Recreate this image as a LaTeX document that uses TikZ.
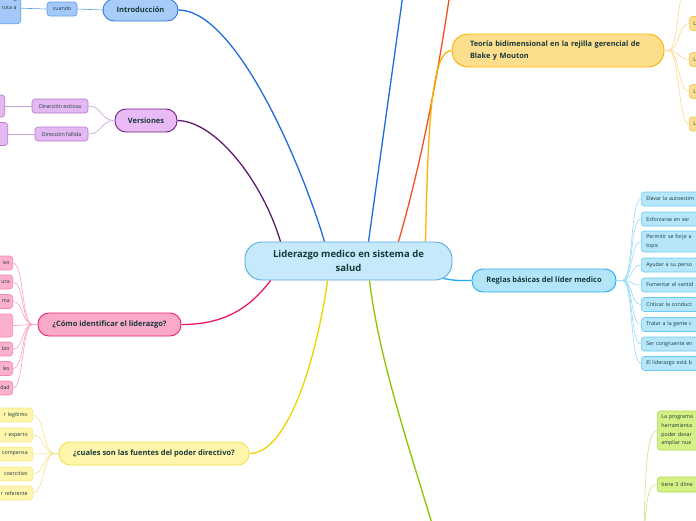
\documentclass[tikz,border=0pt]{standalone}
\usepackage{fontspec}
\setmainfont{Open Sans}
\usetikzlibrary{calc}
\definecolor{ink}{HTML}{183A3A}
\definecolor{cfill}{HTML}{C6E9FB}
\definecolor{cdraw}{HTML}{5AAAE0}
\definecolor{ifill}{HTML}{A8CCF8}
\definecolor{idraw}{HTML}{2F7BE0}
\definecolor{iedge}{HTML}{1E6CDC}
\definecolor{ilfill}{HTML}{A4C9F8}
\definecolor{ildraw}{HTML}{5B9BE6}
\definecolor{vfill}{HTML}{EABAF6}
\definecolor{vdraw}{HTML}{6E1F80}
\definecolor{vedge}{HTML}{5E1A70}
\definecolor{vlfill}{HTML}{E4B8F2}
\definecolor{vldraw}{HTML}{B27AC8}
\definecolor{vline}{HTML}{C8A0D8}
\definecolor{pfill}{HTML}{FBA9C9}
\definecolor{pdraw}{HTML}{EA1E6E}
\definecolor{pedge}{HTML}{E8176B}
\definecolor{plfill}{HTML}{FBB0CE}
\definecolor{pldraw}{HTML}{F28AB6}
\definecolor{pline}{HTML}{F9A0C6}
\definecolor{yfill}{HTML}{FFF6AC}
\definecolor{ydraw}{HTML}{F2E04C}
\definecolor{yedge}{HTML}{EED300}
\definecolor{yldraw}{HTML}{F3E68C}
\definecolor{yline}{HTML}{F3E08C}
\definecolor{tfill}{HTML}{FDDE8D}
\definecolor{tdraw}{HTML}{F6B400}
\definecolor{tedge}{HTML}{F8B500}
\definecolor{tldraw}{HTML}{F6C458}
\definecolor{tline}{HTML}{FBD88A}
\definecolor{rfill}{HTML}{B2E4FA}
\definecolor{rdraw}{HTML}{22AEEE}
\definecolor{redge}{HTML}{1DAAF0}
\definecolor{rlfill}{HTML}{B6E6FA}
\definecolor{rldraw}{HTML}{6CCBF2}
\definecolor{rline}{HTML}{9ADAF6}
\definecolor{oedge}{HTML}{F2501E}
\definecolor{gedge}{HTML}{8CC300}
\definecolor{glfill}{HTML}{D3F184}
\definecolor{gldraw}{HTML}{ACDA4E}
\definecolor{gline}{HTML}{C4E48A}

\begin{document}
\begin{tikzpicture}[x=1pt,y=-1pt,
  topic/.style={rounded corners=11pt,draw,line width=0.9pt,text=ink,
    font=\fontsize{7.5}{9}\selectfont\bfseries,minimum height=23pt,inner sep=0pt},
  leaf/.style={rounded corners=3pt,draw,line width=0.6pt,text=ink,
    font=\fontsize{5.3}{8.6}\selectfont,minimum height=14pt,inner sep=0pt},
  trunk/.style={line width=1.3pt},
  twig/.style={line width=0.6pt},
  fanr/.style={out=0,in=180,distance=11pt},
  fanl/.style={out=180,in=0,distance=11pt}]
  \useasboundingbox (0,0) rectangle (696,520);
  % centre
  \node[topic,fill=cfill,draw=cdraw,minimum width=207pt,minimum height=38pt,
    rounded corners=17pt,align=center,font=\fontsize{9.5}{14}\selectfont\bfseries]
    (lid) at (348.5,261) {Liderazgo medico en sistema de\\salud};
  % left: introduccion and versiones
  \node[topic,fill=ifill,draw=idraw,minimum width=75pt,minimum height=22pt] (intro) at (140.5,10) {Introducción};
  \node[leaf,fill=ilfill,draw=ildraw,minimum width=30pt] (cuando) at (62,9) {cuando};
  \node[leaf,fill=ilfill,draw=ildraw,anchor=south east,minimum height=31pt,text width=50pt,
    align=right,inner xsep=4pt] (ruta) at (21,24) {a\\ruta a\\\mbox{}};
  \draw[twig,ildraw] (intro.west) -- (cuando.east);
  \draw[twig,ildraw] (cuando.west) -- (ruta.east);
  \node[topic,fill=vfill,draw=vdraw,minimum width=62pt] (vers) at (146,120.5) {Versiones};
  \node[leaf,fill=vlfill,draw=vldraw,minimum width=56pt] (exit) at (60,106) {Dirección exitosa};
  \node[leaf,fill=vlfill,draw=vldraw,minimum width=53pt] (fall) at (61.5,134) {Dirección fallida};
  \node[leaf,fill=vlfill,draw=vldraw,anchor=east,minimum width=40pt,minimum height=22pt] (v1) at (5,106) {};
  \node[leaf,fill=vlfill,draw=vldraw,anchor=east,minimum width=40pt,minimum height=23pt] (v2) at (8,134) {};
  \draw[twig,vline] (vers.west) to[fanl,distance=14pt] (exit.east);
  \draw[twig,vline] (vers.west) to[fanl,distance=14pt] (fall.east);
  \draw[twig,vline] (exit.west) -- (v1.east);
  \draw[twig,vline] (fall.west) -- (v2.east);
  % left: como identificar
  \node[topic,fill=pfill,draw=pdraw,minimum width=143pt] (cmo) at (109.5,324.5) {¿Cómo identificar el liderazgo?};
  \node[leaf,fill=plfill,draw=pldraw,anchor=east,text width=40pt,align=right,inner xsep=3pt] (p1) at (13,263) {ivo};
  \node[leaf,fill=plfill,draw=pldraw,anchor=east,text width=40pt,align=right,inner xsep=3pt] (p2) at (13,282) {ura};
  \node[leaf,fill=plfill,draw=pldraw,anchor=east,text width=40pt,align=right,inner xsep=3pt] (p3) at (13,301.5) {ma};
  \node[leaf,fill=plfill,draw=pldraw,anchor=east,text width=40pt,minimum height=23pt,inner xsep=3pt] (p4) at (13,325.5) {};
  \node[leaf,fill=plfill,draw=pldraw,anchor=east,text width=40pt,align=right,inner xsep=3pt] (p5) at (13,349) {bio};
  \node[leaf,fill=plfill,draw=pldraw,anchor=east,text width=40pt,align=right,inner xsep=3pt] (p6) at (13,368.5) {les};
  \node[leaf,fill=plfill,draw=pldraw,anchor=east,text width=40pt,align=right,inner xsep=3pt] (p7) at (13,388) {dad};
  \draw[twig,pline] (cmo.west) -- ++(-5,0) to[fanl] (p1.east);
  \draw[twig,pline] (cmo.west) -- ++(-5,0) to[fanl] (p2.east);
  \draw[twig,pline] (cmo.west) -- ++(-5,0) to[fanl] (p3.east);
  \draw[twig,pline] (cmo.west) -- ++(-5,0) to[fanl] (p4.east);
  \draw[twig,pline] (cmo.west) -- ++(-5,0) to[fanl] (p5.east);
  \draw[twig,pline] (cmo.west) -- ++(-5,0) to[fanl] (p6.east);
  \draw[twig,pline] (cmo.west) -- ++(-5,0) to[fanl] (p7.east);
  % left: fuentes del poder
  \node[topic,fill=yfill,draw=ydraw,minimum width=190pt] (cual) at (154,453.5) {¿cuales son las fuentes del poder directivo?};
  \node[leaf,fill=yfill,draw=yldraw,anchor=east,text width=40pt,align=right,inner xsep=5pt] (y1) at (33,415) {r legítimo};
  \node[leaf,fill=yfill,draw=yldraw,anchor=east,text width=40pt,align=right,inner xsep=5pt] (y2) at (33,435) {r experto};
  \node[leaf,fill=yfill,draw=yldraw,anchor=east,text width=40pt,align=right,inner xsep=5pt] (y3) at (33,454) {compensa};
  \node[leaf,fill=yfill,draw=yldraw,anchor=east,text width=40pt,align=right,inner xsep=5pt] (y4) at (33,474) {coercitivo};
  \node[leaf,fill=yfill,draw=yldraw,anchor=east,text width=40pt,align=right,inner xsep=5pt] (y5) at (33,493) {r referente};
  \draw[twig,yline] (cual.west) -- ++(-4,0) to[fanl] (y1.east);
  \draw[twig,yline] (cual.west) -- ++(-4,0) to[fanl] (y2.east);
  \draw[twig,yline] (cual.west) -- ++(-4,0) to[fanl] (y3.east);
  \draw[twig,yline] (cual.west) -- ++(-4,0) to[fanl] (y4.east);
  \draw[twig,yline] (cual.west) -- ++(-4,0) to[fanl] (y5.east);
  % right: teoria bidimensional
  \node[topic,fill=tfill,draw=tdraw,minimum height=33pt,rounded corners=16pt,text width=176pt,
    align=left,inner xsep=18pt,font=\fontsize{7.4}{11.5}\selectfont\bfseries]
    (teo) at (558,50.5) {Teoría bidimensional en la rejilla gerencial de\\Blake y Mouton};
  \node[leaf,fill=tfill,draw=tldraw,anchor=west,text width=30pt,align=left,inner xsep=4pt] (t0) at (689,-26) {};
  \node[leaf,fill=tfill,draw=tldraw,anchor=west,text width=30pt,align=left,inner xsep=4pt] (t1) at (689,23.5) {L};
  \node[leaf,fill=tfill,draw=tldraw,anchor=west,text width=30pt,align=left,inner xsep=4pt] (t2) at (689,59.5) {L};
  \node[leaf,fill=tfill,draw=tldraw,anchor=west,text width=30pt,align=left,inner xsep=4pt] (t3) at (689,91.5) {L};
  \node[leaf,fill=tfill,draw=tldraw,anchor=west,text width=30pt,align=left,inner xsep=4pt] (t4) at (689,124) {L};
  \draw[twig,tline] (teo.east) -- ++(4,0) to[fanr] (t0.west);
  \draw[twig,tline] (teo.east) -- ++(4,0) to[fanr] (t1.west);
  \draw[twig,tline] (teo.east) -- ++(4,0) to[fanr] (t2.west);
  \draw[twig,tline] (teo.east) -- ++(4,0) to[fanr] (t3.west);
  \draw[twig,tline] (teo.east) -- ++(4,0) to[fanr] (t4.west);
  % right: reglas basicas
  \node[topic,fill=rfill,draw=rdraw,minimum width=144pt] (reg) at (544,280.5) {Reglas básicas del líder medico};
  \node[leaf,fill=rlfill,draw=rldraw,anchor=west,text width=70pt,align=left,inner xsep=5pt] (r1) at (641,199) {Elevar la autoestim};
  \node[leaf,fill=rlfill,draw=rldraw,anchor=west,text width=70pt,align=left,inner xsep=5pt] (r2) at (641,219) {Esforzarse en ser};
  \node[leaf,fill=rlfill,draw=rldraw,anchor=west,text width=70pt,align=left,inner xsep=5pt,minimum height=21pt] (r3) at (641,241.5) {Permitir se forje a\\topic};
  \node[leaf,fill=rlfill,draw=rldraw,anchor=west,text width=70pt,align=left,inner xsep=5pt] (r4) at (641,265) {Ayudar a su perso};
  \node[leaf,fill=rlfill,draw=rldraw,anchor=west,text width=70pt,align=left,inner xsep=5pt] (r5) at (641,285) {Fomentar el sentid};
  \node[leaf,fill=rlfill,draw=rldraw,anchor=west,text width=70pt,align=left,inner xsep=5pt] (r6) at (641,304.5) {Criticar la conduct};
  \node[leaf,fill=rlfill,draw=rldraw,anchor=west,text width=70pt,align=left,inner xsep=5pt] (r7) at (641,324.5) {Tratar a la gente c};
  \node[leaf,fill=rlfill,draw=rldraw,anchor=west,text width=70pt,align=left,inner xsep=5pt] (r8) at (641,344) {Ser congruente en};
  \node[leaf,fill=rlfill,draw=rldraw,anchor=west,text width=70pt,align=left,inner xsep=5pt] (r9) at (641,363.5) {El liderazgo está b};
  \draw[twig,rline] (reg.east) -- ++(6,0) to[fanr] (r1.west);
  \draw[twig,rline] (reg.east) -- ++(6,0) to[fanr] (r2.west);
  \draw[twig,rline] (reg.east) -- ++(6,0) to[fanr] (r3.west);
  \draw[twig,rline] (reg.east) -- ++(6,0) to[fanr] (r4.west);
  \draw[twig,rline] (reg.east) -- ++(6,0) to[fanr] (r5.west);
  \draw[twig,rline] (reg.east) -- ++(6,0) to[fanr] (r6.west);
  \draw[twig,rline] (reg.east) -- ++(6,0) to[fanr] (r7.west);
  \draw[twig,rline] (reg.east) -- ++(6,0) to[fanr] (r8.west);
  \draw[twig,rline] (reg.east) -- ++(6,0) to[fanr] (r9.west);
  % bottom right: green leaves, parent below the page
  \coordinate (gfan) at (644,540);
  \node[leaf,fill=glfill,draw=gldraw,anchor=west,text width=60pt,align=left,inner xsep=4pt,minimum height=39pt] (g1) at (657,430.5) {La programa\\herramienta\\poder desar\\ampliar nue};
  \node[leaf,fill=glfill,draw=gldraw,anchor=west,text width=60pt,align=left,inner xsep=4pt,minimum height=15pt] (g2) at (657,484.5) {tiene 3 dime};
  \draw[twig,gline] (gfan) .. controls (645,470) and (647,430.5) .. (g1.west);
  \draw[twig,gline] (gfan) .. controls (646,500) and (648,484.5) .. (g2.west);
  % main branches
  \coordinate (arriba1) at (405,-20);
  \coordinate (arriba2) at (452,-20);
  \coordinate (verde) at (437,540);
  \draw[trunk,iedge] (intro.east) .. controls (235,10) and (300,160) .. ($(lid.north)+(-24,0)$);
  \draw[trunk,vedge] (vers.east) .. controls (215,121) and (262,180) .. ($(lid.north)+(-68,0)$);
  \draw[trunk,iedge] ($(lid.north)+(20,0)$) -- (arriba1);
  \draw[trunk,oedge] ($(lid.north)+(50,0)$) .. controls (425,150) and (440,60) .. (arriba2);
  \draw[trunk,tedge] ($(lid.north)+(77,0)$) .. controls (428,120) and (432,50.5) .. (teo.west);
  \draw[trunk,redge] ($(lid.south east)+(-9,-2)$) .. controls (456,281) and (460,280.5) .. (reg.west);
  \draw[trunk,pedge] ($(lid.south)+(-78,0)$) .. controls (245,315) and (215,324.5) .. (cmo.east);
  \draw[trunk,yedge] ($(lid.south)+(-21,0)$) .. controls (318,350) and (290,453.5) .. (cual.east);
  \draw[trunk,gedge] ($(lid.south)+(21,0)$) .. controls (379,360) and (410,450) .. (verde);
\end{tikzpicture}
\end{document}
